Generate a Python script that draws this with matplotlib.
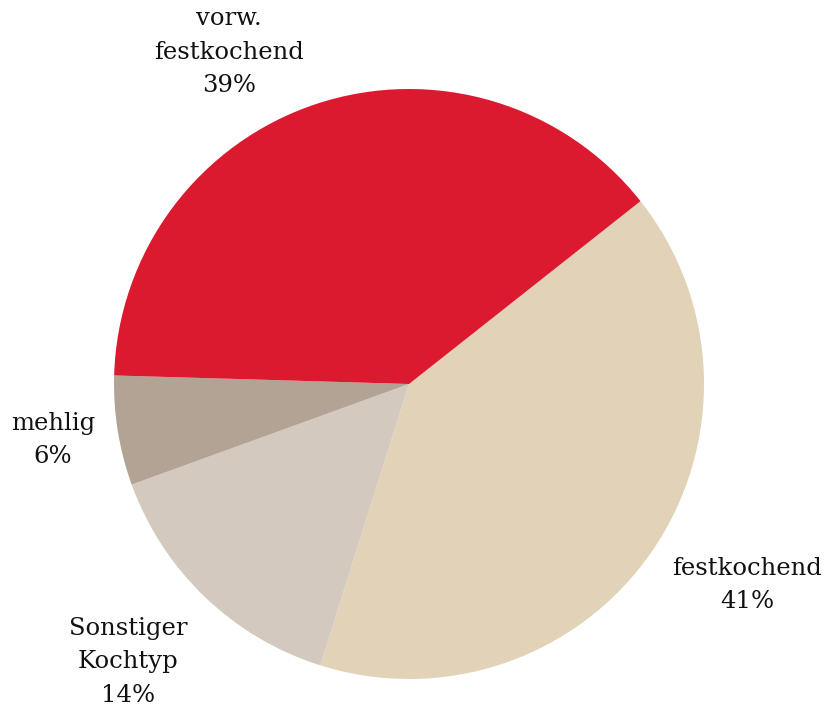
import matplotlib.pyplot as plt

labels = ["festkochend", "Sonstiger\nKochtyp", "mehlig", "vorw.\nfestkochend"]
shares = [40.5, 14.6, 6.0, 38.9]
shown_pct = [41, 14, 6, 39]
colors = ["#E2D3B8", "#D3C9BF", "#B3A395", "#DB1A30"]

# label centres, in pie-radius units (pie centre = 0, 0)
label_pos = [(1.146, -0.681), (-0.953, -0.942), (-1.207, -0.19), (-0.61, 1.125)]

fig = plt.figure(figsize=(8.25, 7.1), dpi=100)
ax = fig.add_axes([114 / 825, 31 / 710, 590 / 825, 590 / 710])

wedges, texts = ax.pie(
    shares,
    labels=[f"{l}\n{p}%" for l, p in zip(labels, shown_pct)],
    colors=colors,
    startangle=38.3,
    counterclock=False,
    radius=1.0,
    wedgeprops={"linewidth": 0},
    textprops={"fontsize": 17.5, "family": "DejaVu Serif", "color": "#111111"},
)
for t, (x, y) in zip(texts, label_pos):
    t.set_position((x, y))
    t.set_ha("center")
    t.set_va("center")
    t.set_multialignment("center")
    t.set_linespacing(1.58)
    t.set_clip_on(False)

ax.set_xlim(-1, 1)
ax.set_ylim(-1, 1)
ax.set_aspect("equal")
ax.axis("off")

fig.savefig("out.png", dpi=100)
plt.close(fig)
